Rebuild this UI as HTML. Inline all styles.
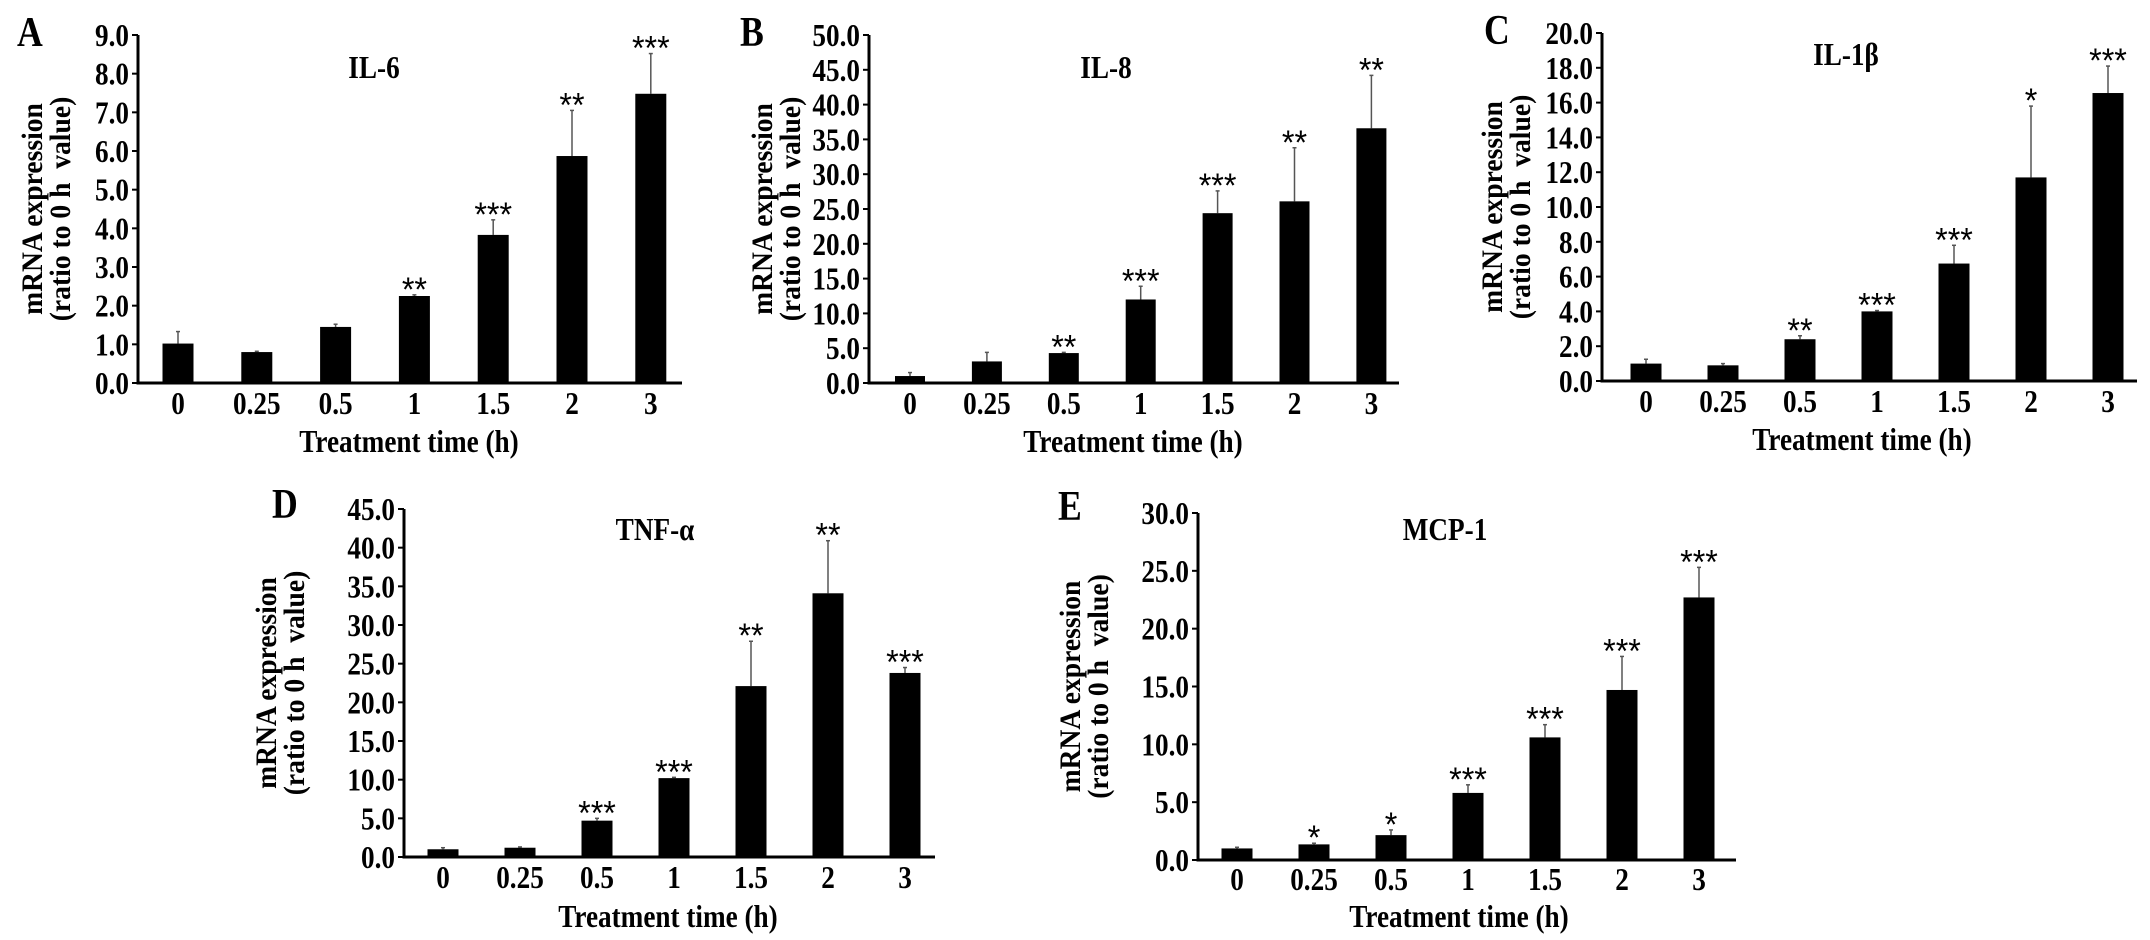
<!DOCTYPE html>
<html><head><meta charset="utf-8"><style>
html,body{margin:0;padding:0;background:#fff;}
svg{display:block;}
text{font-family:"Liberation Serif",serif;font-weight:bold;fill:#000;}
</style></head><body>
<svg id="fig" width="2150" height="940" viewBox="0 0 2150 940"></svg>
<script>
const categories = ["0","0.25","0.5","1","1.5","2","3"];

const il6Values = [1.02, 0.80, 1.45, 2.25, 3.83, 5.87, 7.48];
const il6Errors = [0.31, 0.02, 0.07, 0.03, 0.39, 1.18, 1.04];
const il6Stars = ["", "", "", "**", "***", "**", "***"];
const il6Ticks = [0,1,2,3,4,5,6,7,8,9];

const il8Values = [1.0, 3.1, 4.3, 12.0, 24.4, 26.1, 36.6];
const il8Errors = [0.5, 1.3, 0.1, 1.9, 3.2, 7.7, 7.6];
const il8Stars = ["", "", "**", "***", "***", "**", "**"];
const il8Ticks = [0,5,10,15,20,25,30,35,40,45,50];

const il1bValues = [1.0, 0.9, 2.4, 4.0, 6.75, 11.7, 16.55];
const il1bErrors = [0.25, 0.1, 0.2, 0.05, 1.05, 4.1, 1.55];
const il1bStars = ["", "", "**", "***", "***", "*", "***"];
const il1bTicks = [0,2,4,6,8,10,12,14,16,18,20];

const tnfValues = [1.0, 1.2, 4.7, 10.2, 22.1, 34.1, 23.8];
const tnfErrors = [0.2, 0.1, 0.3, 0.1, 5.8, 6.8, 0.7];
const tnfStars = ["", "", "***", "***", "**", "**", "***"];
const tnfTicks = [0,5,10,15,20,25,30,35,40,45];

const mcpValues = [1.0, 1.35, 2.15, 5.8, 10.6, 14.7, 22.7];
const mcpErrors = [0.1, 0.1, 0.45, 0.7, 1.1, 2.9, 2.6];
const mcpStars = ["", "*", "*", "***", "***", "***", "***"];
const mcpTicks = [0,5,10,15,20,25,30];

const panels = [
 {id:"a",letter:"A",title:"IL-6",values:il6Values,errors:il6Errors,stars:il6Stars,ticks:il6Ticks,
  ax:138,top:35,base:383,max:9,x0:178,step:78.8,bw:31,axEnd:682,titleX:374,titleY:78,letX:17,letY:46,
  yt1:32,yt2:60,xtY:414,xtitleX:409,xtitleY:452},
 {id:"b",letter:"B",title:"IL-8",values:il8Values,errors:il8Errors,stars:il8Stars,ticks:il8Ticks,
  ax:869,top:35,base:383,max:50,x0:910,step:76.9,bw:30,axEnd:1399,titleX:1106,titleY:78,letX:740,letY:46,
  yt1:762,yt2:790,xtY:414,xtitleX:1133,xtitleY:452},
 {id:"c",letter:"C",title:"IL-1\u03b2",values:il1bValues,errors:il1bErrors,stars:il1bStars,ticks:il1bTicks,
  ax:1602,top:33,base:381,max:20,x0:1646,step:77,bw:31,axEnd:2137,titleX:1846,titleY:65,letX:1484,letY:44,
  yt1:1492,yt2:1520,xtY:412,xtitleX:1862,xtitleY:450},
 {id:"d",letter:"D",title:"TNF-\u03b1",values:tnfValues,errors:tnfErrors,stars:tnfStars,ticks:tnfTicks,
  ax:404,top:509,base:857,max:45,x0:443,step:77,bw:31,axEnd:935,titleX:655,titleY:540,letX:272,letY:518,
  yt1:266,yt2:294,xtY:888,xtitleX:668,xtitleY:927},
 {id:"e",letter:"E",title:"MCP-1",values:mcpValues,errors:mcpErrors,stars:mcpStars,ticks:mcpTicks,
  ax:1198,top:513,base:860,max:30,x0:1237,step:77,bw:31,axEnd:1736,titleX:1445,titleY:540,letX:1058,letY:520,
  yt1:1070,yt2:1098,xtY:890,xtitleX:1459,xtitleY:927}
];

const NS = "http://www.w3.org/2000/svg";
const svg = document.getElementById("fig");
function mk(tag, attrs, parent) {
  const e = document.createElementNS(NS, tag);
  for (const k in attrs) e.setAttribute(k, attrs[k]);
  parent.appendChild(e);
  return e;
}
function txt(parent, x, y, str, size, anchor, sx, rot) {
  const tf = rot ? `translate(${x} ${y}) rotate(${rot}) scale(${sx} 1)` : `translate(${x} ${y}) scale(${sx} 1)`;
  const t = mk("text", {x:0, y:0, "font-size":size, "text-anchor":anchor, transform:tf}, parent);
  t.textContent = str;
  return t;
}

panels.forEach(p => {
  const g = mk("g", {}, svg);
  
  
  const yScale = v => p.base - (v / p.max) * (p.base - p.top);
  const xScale = i => p.x0 + i * p.step;

  const letter = txt(g, p.letX, p.letY, p.letter, 42, "start", 0.85, 0);
  
  

  const title = txt(g, p.titleX, p.titleY, p.title, 32, "middle", 0.85, 0);
  
  

  const yAxis = mk("line", {x1:p.ax, y1:p.top, x2:p.ax, y2:p.base+1.5, stroke:"#000", "stroke-width":3}, g);
  
  
  p.ticks.forEach(t => {
    const y = yScale(t);
    const tk = mk("line", {x1:p.ax-6, y1:y, x2:p.ax, y2:y, stroke:"#000", "stroke-width":2}, g);
    
    
    const lb = txt(g, p.ax-9, y+11, t.toFixed(1), 32, "end", 0.85, 0);
    
    
  });

  const cy = (p.top + p.base) / 2;
  const t1 = txt(g, p.yt1 + 10, cy, "mRNA expression", 30, "middle", 0.92, -90);
  
  
  const t2 = txt(g, p.yt2 + 10, cy, "(ratio to 0 h  value)", 30, "middle", 0.92, -90);
  t2.setAttribute("xml:space", "preserve");
  t2.style.whiteSpace = "pre";
  
  

  p.values.forEach((v, i) => {
    const cx = xScale(i);
    const yv = yScale(v);
    const eTop = yScale(v + p.errors[i]);
    const err = mk("line", {x1:cx, y1:eTop, x2:cx, y2:yv, stroke:"#555", "stroke-width":1.5}, g);
    
    
    const cap = mk("line", {x1:cx-2, y1:eTop, x2:cx+2, y2:eTop, stroke:"#555", "stroke-width":1.5}, g);
    
    
    const bar = mk("rect", {x:cx-p.bw/2, y:yv, width:p.bw, height:p.base-yv, fill:"#000"}, g);
    
    
    if (p.stars[i]) {
      const s = txt(g, cx, eTop + 6, p.stars[i], 34, "middle", 0.95, 0);
      s.style.fontFamily = '"Liberation Sans", sans-serif';
      s.style.fontWeight = "normal";
      
      
    }
    const xl = txt(g, cx, p.xtY, categories[i], 32, "middle", 0.85, 0);
    
    
  });

  const xAxis = mk("line", {x1:p.ax-1.5, y1:p.base, x2:p.axEnd, y2:p.base, stroke:"#000", "stroke-width":3}, g);
  
  

  const xt = txt(g, p.xtitleX, p.xtitleY, "Treatment time (h)", 32, "middle", 0.85, 0);
  
  
});
</script>
</body></html>
